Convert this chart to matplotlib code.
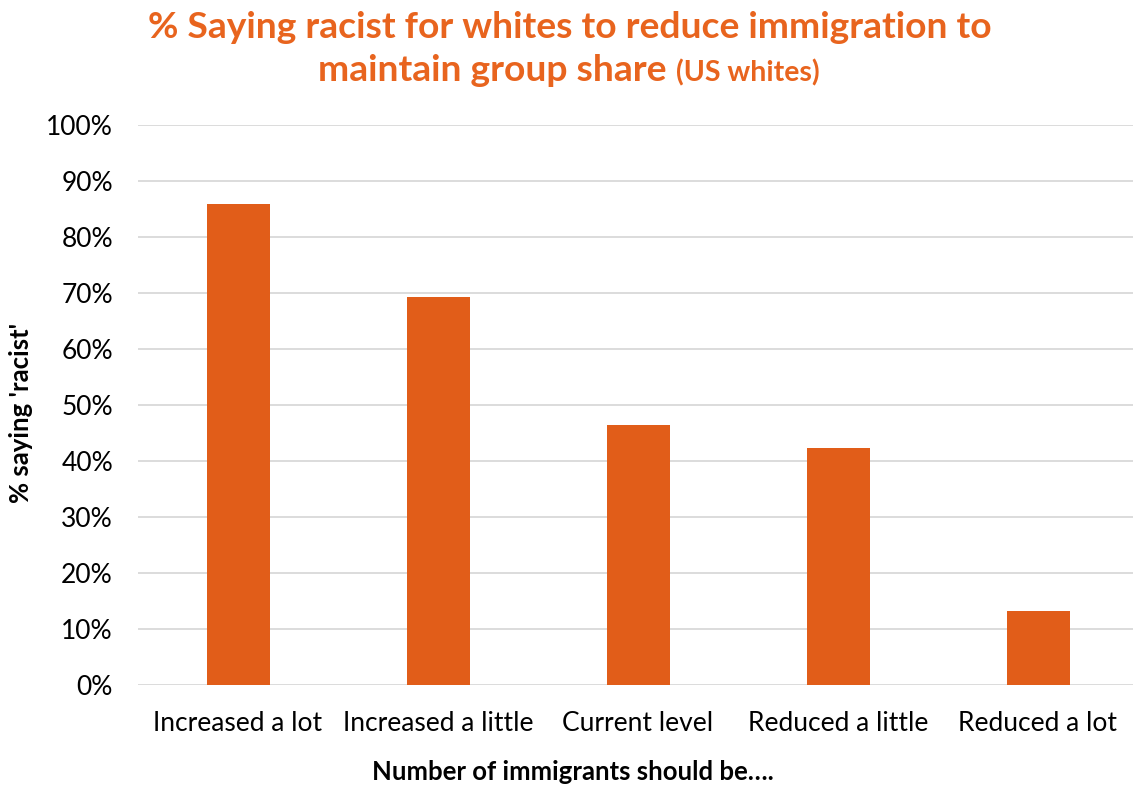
import matplotlib
matplotlib.use("Agg")
import matplotlib.pyplot as plt
from matplotlib.ticker import PercentFormatter

categories = ["Increased a lot", "Increased a little", "Current level", "Reduced a little", "Reduced a lot"]
values = [85.9, 69.3, 46.4, 42.3, 13.3]
yticks = [0, 10, 20, 30, 40, 50, 60, 70, 80, 90, 100]

plt.rcParams['font.family'] = ['Lato', 'DejaVu Sans']
orange = "#E15D19"
title_col = "#E8641E"

W, H = 1133, 785
fig = plt.figure(figsize=(W/100, H/100), dpi=100)
ax = fig.add_axes([138/W, (H-685)/H, (W-138)/W, (685-125)/H])

x = list(range(len(categories)))
ax.bar(x, values, width=0.315, color=orange, zorder=3)
ax.set_xlim(-0.5, 4.475)
ax.set_ylim(0, 100)
ax.set_yticks(yticks)
ax.yaxis.set_major_formatter(PercentFormatter(decimals=0))
ax.set_xticks(x)
ax.set_xticklabels(categories)
ax.grid(axis='y', color='#D9D9D9', lw=1.3, zorder=0)
for s in ax.spines.values():
    s.set_visible(False)
ax.tick_params(axis='both', length=0, labelsize=19, colors='black')
ax.tick_params(axis='y', pad=18)
ax.tick_params(axis='x', pad=19)

fig.text(21/W, 1-413/H, "% saying 'racist'", rotation=90, ha='center', va='center',
         fontsize=18.5, fontweight='bold')
fig.text(573/W, 1-772/H, "Number of immigrants should be….", ha='center', va='center',
         fontsize=18.5, fontweight='bold')

fig.text(570/W, 1-38/H, "% Saying racist for whites to reduce immigration to", ha='center',
         va='baseline', fontsize=26.8, fontweight='bold', color=title_col)
# second line with mixed sizes, centered
fig.canvas.draw()
r = fig.canvas.get_renderer()
t1 = fig.text(0, 1-81/H, "maintain group share ", ha='left', va='baseline', fontsize=26.8,
              fontweight='bold', color=title_col)
t2 = fig.text(0, 1-81/H, "(US whites)", ha='left', va='baseline', fontsize=20.5,
              fontweight='bold', color=title_col)
w1 = t1.get_window_extent(r).width
w2 = t2.get_window_extent(r).width
start = 569 - (w1 + w2) / 2
t1.set_x(start / W)
t2.set_x((start + w1) / W)

fig.savefig("out.png", dpi=100)
